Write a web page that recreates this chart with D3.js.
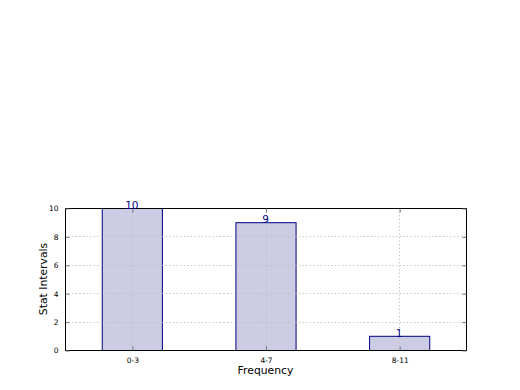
<!DOCTYPE html>
<html><head><meta charset="utf-8">
<script src="https://cdn.jsdelivr.net/npm/d3@7"></script>
<style>body{margin:0;background:#fff}svg{display:block}</style>
</head><body>
<svg id="c" width="520" height="390"></svg>
<script>
const categories = ["0-3", "4-7", "8-11"];
const values = [10, 9, 1];
const yTicks = [0, 2, 4, 6, 8, 10];

const svg = d3.select("#c");
const L = 65, R = 466, T = 208, B = 350;
const x = d3.scaleLinear().domain([-0.5, 2.5]).range([L, R]);
const y = d3.scaleLinear().domain([0, 10]).range([B, T]);
const bw = 0.45;
const font = "DejaVu Sans";

svg.append("rect").attr("width",520).attr("height",390).attr("fill","#fff");

// bars
svg.selectAll("rect.bar").data(values).enter().append("rect")
  .attr("class","bar")
  .attr("x",(d,i)=>x(i-bw/2)+0.5).attr("width",(d,i)=>x(i+bw/2)-x(i-bw/2))
  .attr("y",d=>y(d)+0.5).attr("height",d=>y(0)-y(d))
  .attr("fill","#ccccE4").attr("stroke","#000080").attr("stroke-width",1);

// grid
const g = svg.append("g").attr("stroke","#bdbdbd").attr("stroke-width",1).attr("stroke-dasharray","1.2,2.4");
yTicks.forEach(t=>{ if(t>0 && t<10) g.append("line").attr("x1",L).attr("x2",R).attr("y1",Math.round(y(t))+0.5).attr("y2",Math.round(y(t))+0.5); });
categories.forEach((c,i)=>{ g.append("line").attr("x1",Math.round(x(i))+0.5).attr("x2",Math.round(x(i))+0.5).attr("y1",T).attr("y2",B); });

// frame
svg.append("rect").attr("x",L+0.5).attr("y",T+0.5).attr("width",R-L).attr("height",B-T)
  .attr("fill","none").attr("stroke","#000").attr("stroke-width",1);

// axes (ticks inward)
const yAxis = d3.axisLeft(y).tickValues(yTicks).tickSizeInner(-4).tickSizeOuter(0).tickPadding(7);
const ya = svg.append("g").attr("transform",`translate(${L+0.5},0.5)`).call(yAxis);
ya.select(".domain").remove();
ya.selectAll("text").attr("font-family",font).attr("font-size",7.5).attr("fill","#000");
ya.selectAll("line").attr("stroke","#777");
const yr = svg.append("g").attr("transform",`translate(${R+0.5},0.5)`).call(d3.axisRight(y).tickValues(yTicks).tickSizeInner(-4).tickSizeOuter(0).tickFormat(""));
yr.select(".domain").remove(); yr.selectAll("line").attr("stroke","#777");

const xAxis = d3.axisBottom(x).tickValues([0,1,2]).tickFormat(i=>categories[i]).tickSizeInner(-4).tickSizeOuter(0).tickPadding(7);
const xa = svg.append("g").attr("transform",`translate(0.5,${B+0.5})`).call(xAxis);
xa.select(".domain").remove();
xa.selectAll("text").attr("font-family",font).attr("font-size",7.5).attr("fill","#000");
xa.selectAll("line").attr("stroke","#777");
const xt = svg.append("g").attr("transform",`translate(0.5,${T+0.5})`).call(d3.axisTop(x).tickValues([0,1,2]).tickSizeInner(-4).tickSizeOuter(0).tickFormat(""));
xt.select(".domain").remove(); xt.selectAll("line").attr("stroke","#777");

// value labels
svg.selectAll("text.val").data(values).enter().append("text")
  .attr("class","val").attr("x",(d,i)=>x(i)).attr("y",d=>y(d)+1)
  .attr("text-anchor","middle").attr("font-family",font).attr("font-size",10.5)
  .attr("fill","#00008b").text(d=>d);

// axis labels
svg.append("text").attr("x",(L+R)/2).attr("y",374).attr("text-anchor","middle")
  .attr("font-family",font).attr("font-size",10.8).attr("fill","#000").text("Frequency");
svg.append("text").attr("transform",`translate(47,${(T+B)/2}) rotate(-90)`).attr("text-anchor","middle")
  .attr("font-family",font).attr("font-size",10.8).attr("fill","#000").text("Stat Intervals");
</script>
</body></html>
